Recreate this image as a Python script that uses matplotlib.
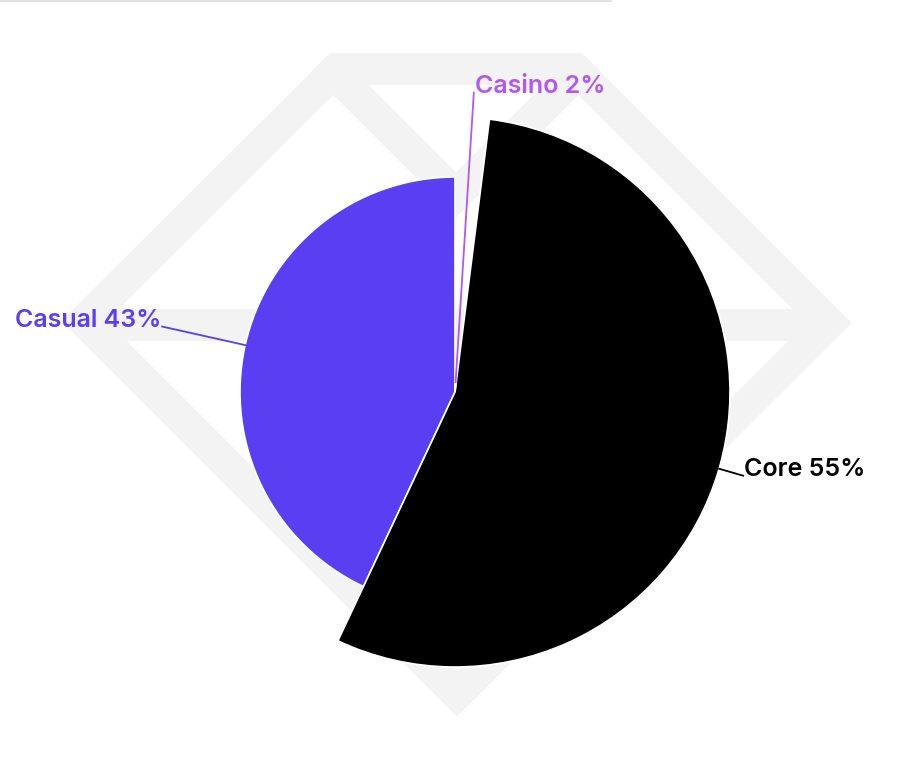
import numpy as np
import matplotlib
matplotlib.use("Agg")
import matplotlib.pyplot as plt
from matplotlib.patches import Wedge, Rectangle, Polygon

#_________data__________________
labels = ["Casual", "Core", "Casino"]
shares = [43, 55, 2]
colors = ["#5a3ef2", "#000000", "#b356f6"]
text_colors = ["#5a3ef2", "#000000", "#b356f6"]
#_______________________________

W, H = 911, 779
fig = plt.figure(figsize=(W / 100, H / 100), dpi=100)
ax = fig.add_axes([0, 0, 1, 1])
ax.set_xlim(0, W)
ax.set_ylim(0, H)
ax.set_aspect("equal")
ax.axis("off")

def py(y):
    # picture rows run downwards, axes upwards
    return H - y

#---------- watermark (gem outline) ----------
wm = "#f3f3f3"
wlw = 23
outer = [(330, 53), (582, 53), (847, 321), (457, 722), (66, 321)]
clip = Polygon([(x, py(y)) for x, y in outer], closed=True, fill=False, lw=0)
ax.add_patch(clip)

inner = [(337, 69), (575, 69), (829, 323), (457, 694), (84, 321)]
ax.add_patch(Polygon([(x, py(y)) for x, y in inner], closed=True, fill=False,
                     edgecolor=wm, lw=wlw, joinstyle="miter", zorder=0))
girdle, = ax.plot([60, 860], [py(325), py(325)], color=wm, lw=wlw, zorder=0)
crown, = ax.plot([310, 456, 602], [py(49), py(195), py(49)], color=wm, lw=wlw,
                 solid_joinstyle="miter", zorder=0)
girdle.set_clip_path(clip)
crown.set_clip_path(clip)

# thin rule along the top edge
ax.add_patch(Rectangle((0, py(2)), 612, 2, color="#e2e2e2", lw=0, zorder=0))

#---------- pie with radius by share ----------
cx, cy = 455, py(392)
px_per_pct = 5.0
label_r = 300

start = 90.0
for lab, val, col, tcol in zip(labels, shares, colors, text_colors):
    span = val / sum(shares) * 360
    r = val * px_per_pct
    ax.add_patch(Wedge((cx, cy), r, start, start + span, facecolor=col,
                       edgecolor="white", lw=1.2, zorder=2))
    mid = np.deg2rad(start + span / 2)
    x0, y0 = cx + r * np.cos(mid), cy + r * np.sin(mid)
    x1, y1 = cx + label_r * np.cos(mid), cy + label_r * np.sin(mid)
    ax.plot([x0, x1], [y0, y1], color=tcol, lw=1.3, zorder=3)
    ha = "left" if np.cos(mid) >= 0 else "right"
    dx = 1 if ha == "left" else -1
    ax.text(x1 + dx, y1, f"{lab} {val}%", ha=ha, va="baseline", color=tcol,
            fontsize=18, fontweight="semibold", family=["Inter", "DejaVu Sans"], zorder=4)
    start += span

fig.savefig("out.png", dpi=100, facecolor="white")
